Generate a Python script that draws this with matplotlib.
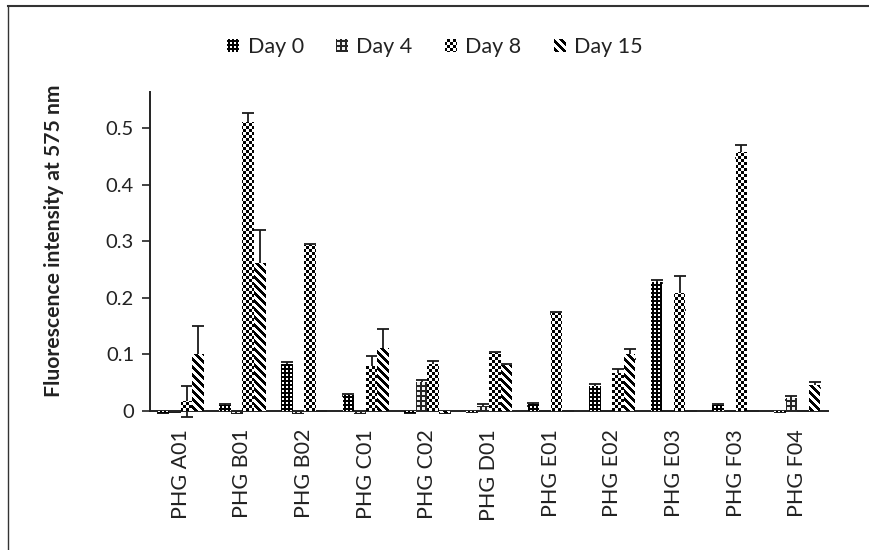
import numpy as np
import matplotlib
matplotlib.use("Agg")
import matplotlib.pyplot as plt
from matplotlib.lines import Line2D
from matplotlib.patches import Rectangle
from matplotlib.path import Path
from matplotlib.transforms import IdentityTransform

plt.rcParams['font.family'] = ['Lato', 'DejaVu Sans']

categories = ["PHG A01", "PHG B01", "PHG B02", "PHG C01", "PHG C02", "PHG D01",
              "PHG E01", "PHG E02", "PHG E03", "PHG F03", "PHG F04"]
series_names = ["Day 0", "Day 4", "Day 8", "Day 15"]

day0 = [-0.003, 0.011, 0.084, 0.028, -0.003, -0.002, 0.012, 0.045, 0.229, 0.011, -0.002]
day4 = [-0.002, -0.003, -0.003, -0.003, 0.052, 0.009, 0.0, 0.0, 0.0, 0.0, 0.023]
day8 = [0.017, 0.511, 0.294, 0.079, 0.084, 0.102, 0.173, 0.068, 0.209, 0.459, 0.0]
day15 = [0.100, 0.262, 0.0, 0.111, -0.003, 0.081, 0.0, 0.101, 0.0, 0.0, 0.046]

err0 = [0.0, 0.002, 0.003, 0.002, 0.0, 0.0, 0.003, 0.002, 0.002, 0.002, 0.0]
err4 = [0.0, 0.0, 0.0, 0.0, 0.003, 0.003, 0.0, 0.0, 0.0, 0.0, 0.004]
err8 = [0.027, 0.017, 0.002, 0.018, 0.004, 0.002, 0.002, 0.006, 0.030, 0.012, 0.0]
err15 = [0.050, 0.058, 0.0, 0.034, 0.0, 0.002, 0.0, 0.009, 0.0, 0.0, 0.006]

yticks = [0, 0.1, 0.2, 0.3, 0.4, 0.5]
ytick_labels = ["0", "0.1", "0.2", "0.3", "0.4", "0.5"]

W, H = 869, 550
fig = plt.figure(figsize=(W / 100, H / 100), dpi=100)
ax = fig.add_axes([150/W, 1-411/H, (828-150)/W, (411-92)/H])

# --- pixel fill patterns (style only) ---
rr, cc = np.mgrid[0:H, 0:W]

def pattern_rgba(kind):
    v = np.ones((H, W))
    if kind == 0:      # black with small white squares
        white = ((cc % 4) >= 2) & ((rr % 4) >= 2)
        v = np.where(white, 1.0, 0.0)
    elif kind == 1:    # larger dark pattern with white blocks
        white = ((cc % 5) >= 2) & ((rr % 5) >= 2)
        v = np.where(white, 0.95, 0.15)
    elif kind == 2:    # fine checkerboard
        v = np.where(((cc // 3) + (rr // 3)) % 2 == 0, 0.0, 1.0)
    elif kind == 3:    # wide diagonal stripes "\"
        v = np.where(((cc - rr) % 8) < 4, 0.0, 1.0)
    rgba = np.zeros((H, W, 4))
    rgba[..., 0] = v
    rgba[..., 1] = v
    rgba[..., 2] = v
    rgba[..., 3] = 1.0
    return rgba

patterns = [pattern_rgba(k) for k in range(4)]

x = np.arange(len(categories))
width = 0.1875
values = [day0, day4, day8, day15]
errors = [err0, err4, err8, err15]

for i, (vals, errs) in enumerate(zip(values, errors)):
    bars = ax.bar(x + (i - 1.5) * width, vals, width, facecolor='white',
                  edgecolor='none', linewidth=0, clip_on=False, zorder=2,
                  label=series_names[i])
    paths = [b.get_path().transformed(b.get_patch_transform()) for b in bars]
    compound = Path.make_compound_path(*paths)
    im = fig.figimage(patterns[i], xo=0, yo=0, origin='upper', zorder=2.5)
    im.set_clip_path(compound, ax.transData)
    eb = ax.errorbar(x + (i - 1.5) * width, vals, yerr=errs, fmt='none', ecolor='#1a1a1a',
                     elinewidth=1.3, capsize=4.3, capthick=1.3, zorder=3)
    for art in eb.lines[1] + eb.lines[2]:
        art.set_clip_on(False)
        art.set_zorder(3)

ax.set_zorder(1)
ax.patch.set_alpha(0)
ax.set_xlim(-0.5, len(categories) - 0.5)
ax.set_ylim(0, 0.5646)
ax.set_yticks(yticks)
ax.set_yticklabels(ytick_labels, fontsize=14.5, color='#222222')
ax.set_xticks(x)
ax.set_xticklabels(categories, rotation=90, fontsize=15.5, color='#222222')
ax.tick_params(axis='x', length=0, pad=13)
ax.tick_params(axis='y', length=5.5, width=1.2, pad=6, color='#222222', direction='out')

for s in ['top', 'right']:
    ax.spines[s].set_visible(False)
for s in ['left', 'bottom']:
    ax.spines[s].set_linewidth(1.4)
    ax.spines[s].set_color('#222222')
    ax.spines[s].set_zorder(4)

fig.text(54/W, 1-241/H, "Fluorescence intensity at 575 nm", rotation=90,
         ha='center', va='center', fontsize=15.2, fontweight='bold', color='#222222')

proxies = [Rectangle((0, 0), 1, 1, facecolor='none', edgecolor='none') for _ in series_names]
leg = fig.legend(handles=proxies, labels=series_names, loc='center', ncol=4,
                 bbox_to_anchor=(435/W, 1-47/H), frameon=False, fontsize=15.5,
                 handlelength=0.55, handleheight=0.55, handletextpad=0.4, columnspacing=1.5)
for t in leg.get_texts():
    t.set_color('#222222')

fig.add_artist(Line2D([8/W, 8/W], [0, 1-6/H], transform=fig.transFigure,
                      color='#333333', lw=1.0))
fig.add_artist(Line2D([8/W, 1], [1-6/H, 1-6/H], transform=fig.transFigure,
                      color='#333333', lw=1.5))

# pattern fills for legend keys
fig.canvas.draw()
renderer = fig.canvas.get_renderer()
for i, h in enumerate(leg.legend_handles):
    bb = h.get_window_extent(renderer)
    rect = Path([(bb.x0, bb.y0), (bb.x1, bb.y0), (bb.x1, bb.y1), (bb.x0, bb.y1), (bb.x0, bb.y0)],
                closed=True)
    im = fig.figimage(patterns[i], xo=0, yo=0, origin='upper', zorder=8)
    im.set_clip_path(rect, IdentityTransform())

fig.savefig("out.png", dpi=100)
